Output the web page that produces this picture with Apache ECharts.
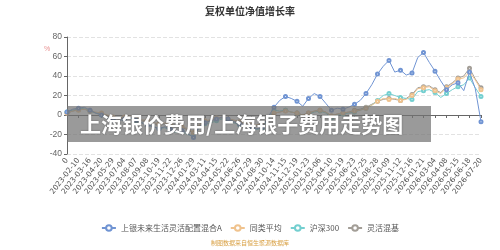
<!DOCTYPE html>
<html>
<head>
<meta charset="utf-8">
<script src="https://cdn.jsdelivr.net/npm/echarts@6/dist/echarts.min.js"></script>
<style>
  html, body { margin: 0; padding: 0; background: #fff; }
  #main { width: 500px; height: 250px; }
</style>
</head>
<body>
<div id="main"></div>
<script>
// 日期（每两个取一个作为刻度标签）
const dates = [
  '0', '2023-01-30', '2023-02-10', '2023-02-28', '2023-03-16', '2023-04-03', '2023-04-20', '2023-05-10',
  '2023-05-29', '2023-06-15', '2023-07-04', '2023-07-21', '2023-08-07', '2023-08-23', '2023-09-08', '2023-09-25',
  '2023-10-19', '2023-11-03', '2023-11-22', '2023-12-08', '2023-12-26', '2024-01-11', '2024-01-29', '2024-02-21',
  '2024-03-11', '2024-03-27', '2024-04-15', '2024-05-06', '2024-05-22', '2024-06-07', '2024-06-26', '2024-07-12',
  '2024-07-29', '2024-08-14', '2024-08-30', '2024-09-20', '2024-10-14', '2024-10-30', '2024-11-15', '2024-12-03',
  '2024-12-19', '2025-01-07', '2025-01-23', '2025-02-17', '2025-03-06', '2025-03-24', '2025-04-10', '2025-04-28',
  '2025-05-19', '2025-06-05', '2025-06-23', '2025-07-09', '2025-07-25', '2025-08-11', '2025-08-28', '2025-09-16',
  '2025-10-09', '2025-10-27', '2025-11-12', '2025-11-28', '2025-12-16', '2026-01-05', '2026-01-21', '2026-02-09',
  '2026-03-04', '2026-03-20', '2026-04-08', '2026-04-27', '2026-05-15', '2026-06-02', '2026-06-18', '2026-07-03',
  '2026-07-20'
];

const fundValues = [
  3, 6, 7, 8, 5, 2, 0, -3, -5, -6, -4, -2, -5, -8, -10, -12,
  -14, -12, -15, -17, -16, -19, -23, -12, -8, -6, -4, -2, -4, -7, -9, -10,
  -12, -14, -12, -2, 8, 15, 19, 17, 14, 9, 17, 22, 19, 12,
  5, 7, 6, 8, 11, 15, 22, 31, 42, 50, 56, 44, 46, 41, 43, 59,
  64, 54, 45, 35, 26, 31, 33, 25, 44, 27, -7
];

const peerAvg = [
  2, 4, 5, 6, 4, 3, 2, 0, -2, -3, -2, -1, -3, -5, -6, -8,
  -9, -8, -10, -11, -12, -14, -18, -10, -6, -5, -3, -2, -4, -5, -7, -8,
  -9, -10, -9, -3, 2, 3, 4, 3, 2, 0, 2, 4, 5, 3,
  -1, 1, 2, 3, 4, 5, 7, 10, 14, 17, 16, 17, 15, 16, 20, 27,
  28, 29, 25, 22, 28, 32, 37, 38, 44, 36, 26
];

const hs300 = [
  3, 5, 6, 7, 4, 2, 0, -3, -5, -6, -4, -3, -6, -8, -10, -12,
  -14, -13, -16, -18, -17, -20, -22, -13, -9, -8, -6, -4, -6, -8, -10, -11,
  -13, -15, -13, -4, 5, 4, 5, 3, 2, -1, 1, 3, 4, 2,
  -3, 0, 1, 2, 3, 5, 7, 10, 15, 20, 22, 20, 18, 17, 16, 24,
  25, 26, 23, 18, 22, 26, 29, 31, 38, 28, 19
];

const flexMix = [
  2, 4, 6, 6, 4, 2, 1, -1, -3, -4, -3, -2, -4, -6, -7, -9,
  -10, -9, -11, -12, -13, -15, -19, -11, -7, -6, -4, -3, -5, -6, -8, -9,
  -10, -11, -10, -4, 2, 3, 5, 3, 2, 0, 2, 4, 5, 3,
  -1, 1, 2, 3, 5, 6, 8, 11, 14, 16, 17, 16, 15, 17, 21, 28,
  29, 30, 26, 23, 29, 33, 38, 40, 48, 37, 28
];

const seriesNames = ['上银未来生活灵活配置混合A', '同类平均', '沪深300', '灵活混基'];
const seriesColors = ['#7094d3', '#f0c38e', '#74cfd0', '#a39e97'];
const yTicks = [-40, -20, 0, 20, 40, 60, 80];

const chart = echarts.init(document.getElementById('main'));

const allData = [fundValues, peerAvg, hs300, flexMix];

chart.setOption({
  animation: false,
  title: {
    text: '复权单位净值增长率',
    left: 'center',
    top: 1,
    textStyle: { fontSize: 10, fontWeight: 'bold', color: '#333', fontFamily: 'Noto Sans CJK SC' }
  },
  legend: {
    bottom: 13,
    left: 'center',
    itemWidth: 14,
    itemHeight: 7,
    itemGap: 8,
    textStyle: { fontSize: 8, color: '#555', fontFamily: 'Noto Sans CJK SC' },
    data: seriesNames
  },
  grid: { left: 67, right: 19, top: 37, bottom: 96 },
  xAxis: [
    {
      type: 'category',
      data: dates,
      boundaryGap: false,
      axisLine: { onZero: true, lineStyle: { color: '#666' } },
      axisTick: { interval: 1, length: 3, lineStyle: { color: '#666' } },
      axisLabel: { show: false, interval: 1 }
    },
    {
      type: 'category',
      data: dates,
      position: 'bottom',
      boundaryGap: false,
      axisLine: { show: false, onZero: false },
      axisTick: { show: false },
      axisLabel: {
        interval: 1,
        rotate: 52,
        margin: 5,
        fontSize: 7.5,
        color: '#555',
        fontFamily: 'DejaVu Sans'
      }
    }
  ],
  yAxis: {
    type: 'value',
    min: yTicks[0],
    max: yTicks[yTicks.length - 1],
    interval: 20,
    axisLine: { show: true, lineStyle: { color: '#666' } },
    axisTick: { show: true, length: 3 },
    axisLabel: { fontSize: 8.5, color: '#666', margin: 5 },
    splitLine: { lineStyle: { type: 'dashed', color: '#e2e2e2' } }
  },
  series: allData.map((d, i) => ({
    name: seriesNames[i],
    type: 'line',
    data: d,
    xAxisIndex: 1,
    symbol: 'emptyCircle',
    symbolSize: 3,
    showAllSymbol: false,
    lineStyle: { width: 1, color: seriesColors[i] },
    itemStyle: { color: seriesColors[i], borderWidth: 1 },
    z: 10 - i
  })),
  graphic: [
    {
      type: 'text',
      left: 44,
      top: 46,
      style: { text: '%', fill: '#e89090', fontSize: 7 },
      z: 50
    },
    {
      type: 'rect',
      shape: { x: 67, y: 106, width: 364, height: 36 },
      style: { fill: 'rgba(115,115,115,0.72)' },
      z: 100
    },
    {
      type: 'text',
      x: 80,
      y: 124,
      style: {
        text: '上海银价费用/上海银子费用走势图',
        fill: '#fff',
        fontSize: 21,
        fontWeight: 'bold',
        fontFamily: 'Noto Sans CJK SC',
        verticalAlign: 'middle',
        textShadowColor: 'rgba(0,0,0,0.4)',
        textShadowBlur: 2
      },
      z: 101
    },
    {
      type: 'text',
      left: 'center',
      top: 240,
      style: {
        text: '制图数据来自恒生聚源数据库',
        fill: '#d9a145',
        fontSize: 6,
        fontFamily: 'Noto Sans CJK SC'
      },
      z: 50
    }
  ]
});
</script>
</body>
</html>
